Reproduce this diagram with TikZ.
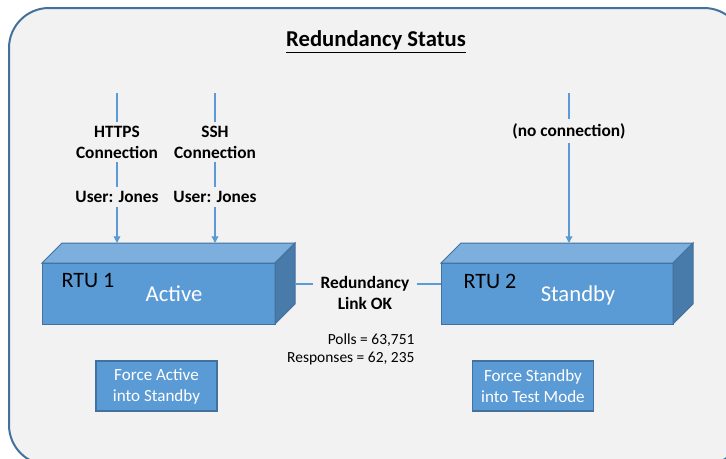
\documentclass[tikz,border=0pt]{standalone}
\usepackage{fontspec}
\setmainfont{Carlito}
\usetikzlibrary{arrows.meta}

\definecolor{faceblue}{RGB}{91,155,213}
\definecolor{topblue}{RGB}{124,175,221}
\definecolor{sideblue}{RGB}{72,122,170}
\definecolor{edgeblue}{RGB}{65,113,156}
\definecolor{panelgrey}{RGB}{242,242,242}

\tikzset{every picture/.style={line width=0.75pt}}
\tikzset{
  feed/.style={draw=faceblue, line width=0.9pt},
  feedarrow/.style={feed, -{Triangle[width=5pt,length=5pt]}},
  conlabel/.style={font=\fontsize{13}{15.75}\selectfont\bfseries, align=center, inner sep=2.5pt},
  rtuname/.style={font=\fontsize{16.5}{19}\selectfont},
  rtustate/.style={font=\fontsize{17}{20}\selectfont, text=white},
  button/.style={draw=edgeblue, fill=faceblue, line width=1.1pt, text=white, align=center,
    font=\fontsize{12.8}{15.75}\selectfont, minimum width=90.75pt, minimum height=37.5pt, inner sep=0pt}
}

\begin{document}
\begin{tikzpicture}[x=0.75pt,y=0.75pt,yscale=-1,xscale=1]
\useasboundingbox (0,0) rectangle (726,458);

%Shape: Rounded Rect [panel]
\draw [draw=edgeblue, fill=panelgrey, line width=1.5pt, rounded corners=30pt] (9,8) rectangle (744,465);

%Shape: Cube [RTU 1]
\draw [draw=edgeblue, fill=faceblue] (42,263) rectangle (275,324);
\draw [draw=edgeblue, fill=topblue] (42,263) -- (62,243) -- (295,243) -- (275,263) -- cycle;
\draw [draw=edgeblue, fill=sideblue] (275,263) -- (295,243) -- (295,304) -- (275,324) -- cycle;
%Shape: Cube [RTU 2]
\draw [draw=edgeblue, fill=faceblue] (441,263) rectangle (673,324);
\draw [draw=edgeblue, fill=topblue] (441,263) -- (461,243) -- (693,243) -- (673,263) -- cycle;
\draw [draw=edgeblue, fill=sideblue] (673,263) -- (693,243) -- (693,304) -- (673,324) -- cycle;

% Text Node
\draw (376,42) node (title) [font=\fontsize{17}{20}\selectfont\bfseries] {\underline{Redundancy Status}};
% Text Node
\draw (88,280) node (rtuonename) [rtuname] {RTU 1};
\draw (174,294) node (rtuonestate) [rtustate] {Active};
\draw (490,281) node (rtutwoname) [rtuname] {RTU 2};
\draw (578,295) node (rtutwostate) [rtustate] {Standby};
% Text Node
\draw (117,142) node (httpslbl) [conlabel] {HTTPS\\Connection};
\draw (117,197) node (httpsuser) [conlabel] {User: Jones};
\draw (215,142) node (sshlbl) [conlabel] {SSH\\Connection};
\draw (215,197) node (sshuser) [conlabel] {User: Jones};
\draw (569,131) node (noconn) [conlabel] {(no connection)};
% Text Node
\draw (365,293) node (linklbl) [conlabel, inner sep=5pt] {Redundancy\\Link OK};
\draw (415,349) node (pollslbl) [anchor=east, align=right, inner sep=0pt,
  font=\fontsize{11.6}{13.5}\selectfont] {Polls = 63,751\\Responses = 62, 235};
% Buttons
\draw (156.5,386) node (forceactive) [button] {Force Active\\into Standby};
\draw (533,386) node (forcestandby) [button] {Force Standby\\into Test Mode};

% Connectors
\coordinate (httpstop) at (117,93);
\coordinate (httpsend) at (117,243);
\coordinate (sshtop) at (215,93);
\coordinate (sshend) at (215,243);
\coordinate (nctop) at (569,93);
\coordinate (ncend) at (569,243);
\coordinate (linkleft) at (295,284);
\coordinate (linkright) at (441,284);

\draw [feedarrow] (httpstop) -- (httpslbl) -- (httpsuser) -- (httpsend);
\draw [feedarrow] (sshtop) -- (sshlbl) -- (sshuser) -- (sshend);
\draw [feedarrow] (nctop) -- (noconn) -- (ncend);
\draw [feed] (linkleft) -- (linklbl.west |- linkleft);
\draw [feed] (linklbl.east |- linkright) -- (linkright);

\end{tikzpicture}
\end{document}
